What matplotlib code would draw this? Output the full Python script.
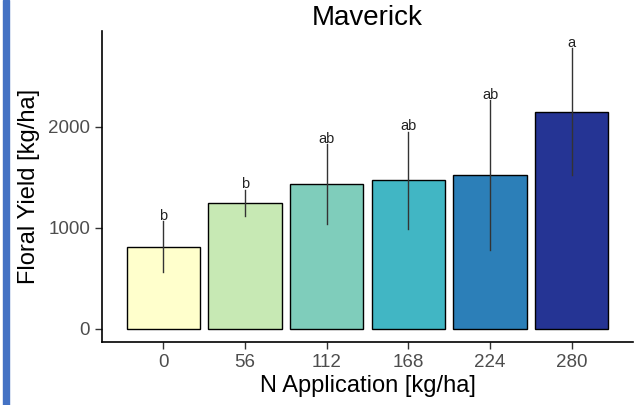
import matplotlib
matplotlib.use("Agg")
import matplotlib.pyplot as plt
from matplotlib.patches import Rectangle

categories = ["0", "56", "112", "168", "224", "280"]
means = [815, 1250, 1436, 1472, 1522, 2151]
sds = [250, 128, 392, 480, 740, 628]
letters = ["b", "b", "ab", "ab", "ab", "a"]
colors = ["#FFFFCC", "#C7E9B4", "#7FCDBB", "#41B6C4", "#2C7FB8", "#253494"]

plt.rcParams['font.family'] = ['Liberation Sans', 'DejaVu Sans']

fig = plt.figure(figsize=(6.35, 4.05), dpi=100)
fig.patches.append(Rectangle((3/635, 0), 6/635, 1, transform=fig.transFigure,
                             color="#4472C4", zorder=10))
ax = fig.add_axes([102/635, 63/405, 531/635, 311.3/405])

x = list(range(len(categories)))
ax.bar(x, means, width=0.9, color=colors, edgecolor="black", linewidth=1.0, zorder=2)
for xi, m, s, lab in zip(x, means, sds, letters):
    ax.plot([xi, xi], [m - s, m + s], color="#333333", linewidth=1.0, zorder=3)
    ax.text(xi, m + s - 15, lab, ha="center", va="bottom", fontsize=10.5, color="#222222", zorder=4)

ax.set_xlim(-0.75, 5.75)
ax.set_ylim(-129, 2953)
ax.set_xticks(x)
ax.set_xticklabels(categories)
ax.set_yticks([0, 1000, 2000])
ax.tick_params(axis="both", colors="#333333", labelcolor="#4D4D4D", labelsize=13.5,
               length=5, width=1.0)
for sp in ["top", "right"]:
    ax.spines[sp].set_visible(False)
for sp in ["left", "bottom"]:
    ax.spines[sp].set_linewidth(1.2)
    ax.spines[sp].set_color("black")
ax.set_xlabel("N Application [kg/ha]", fontsize=17, labelpad=3)
ax.set_ylabel("Floral Yield [kg/ha]", fontsize=17, labelpad=6)
ax.set_title("Maverick", fontsize=20, pad=-1)

fig.savefig("out.png", dpi=100)
